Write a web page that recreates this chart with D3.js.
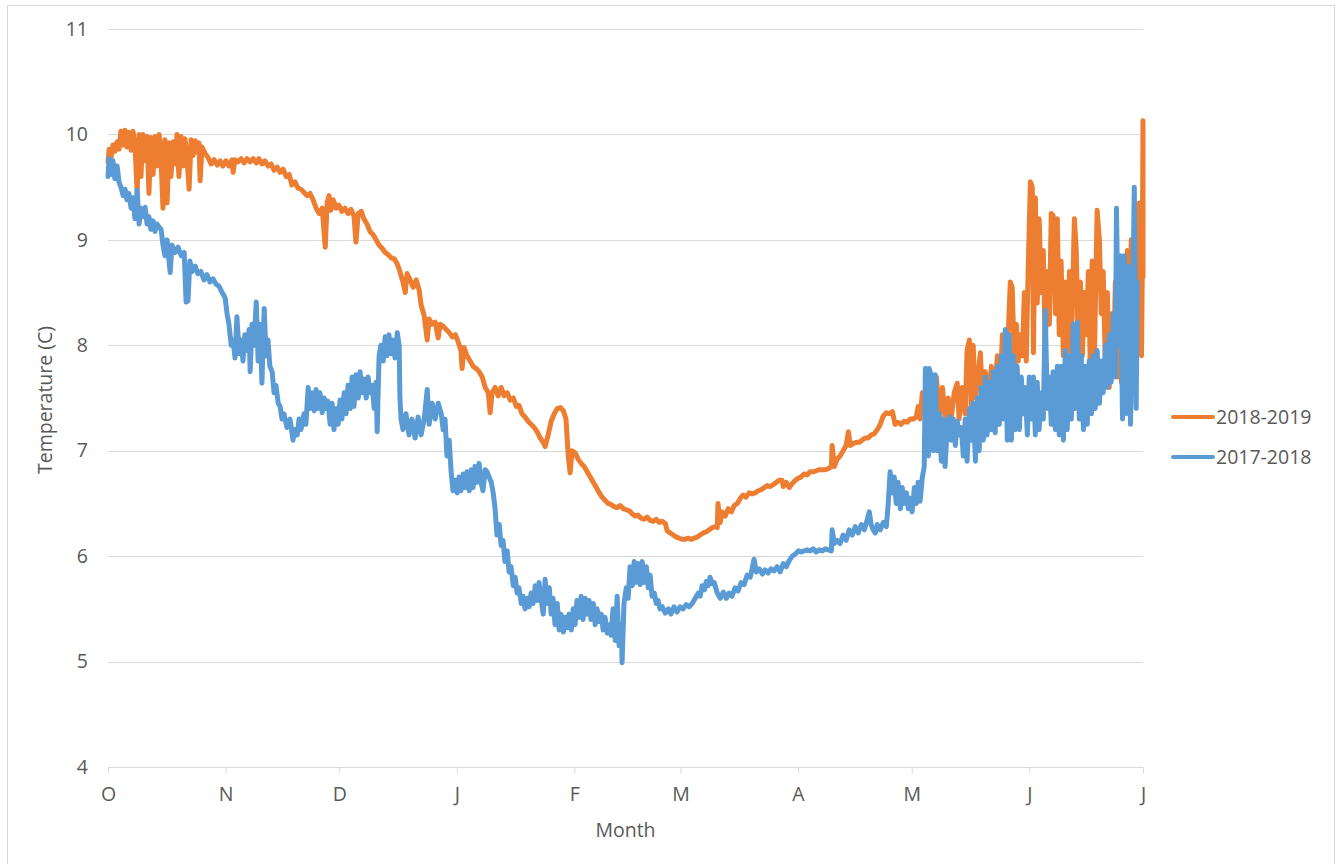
<!DOCTYPE html>
<html>
<head>
<meta charset="utf-8">
<script src="https://cdn.jsdelivr.net/npm/d3@7"></script>
<style>
  body { margin: 0; background: #fff; }
  text { font-family: "Open Sans", sans-serif; fill: #595959; }
</style>
</head>
<body>
<div id="chart"></div>
<script>
// month ticks (days since 1 Oct)
var monthDays = [0, 31, 61, 92, 123, 151, 182, 212, 243, 273];
var monthLabels = ["O", "N", "D", "J", "F", "M", "A", "M", "J", "J"];
var yTicks = [4, 5, 6, 7, 8, 9, 10, 11];
var seriesNames = ["2018-2019", "2017-2018"];

// 2018-2019 : day since 1 Oct, temperature (C)
var days1819 = [0,0.3,0.8,1.3,1.8,2.4,2.9,3.4,4.0,4.5,5.0,5.5,6.1,6.6,7.1,7.7,8.2,8.7,9.2,9.8,10.3,10.8,11.3,11.9,12.4,12.9,13.5,14.0,14.5,15.0,15.6,16.1,16.6,17.2,17.7,18.2,18.7,19.3,19.8,20.3,20.8,21.4,21.9,22.4,23.0,23.5,24.0,24.3,24.8,25.6,26.4,27.2,28.0,28.8,29.6,30.3,31.1,31.9,32.7,33.0,33.5,34.3,35.1,35.9,36.7,37.5,38.3,39.1,39.8,40.6,41.4,42.2,43.0,43.8,44.6,45.4,46.2,47.0,47.8,48.5,49.3,50.1,50.9,51.7,52.5,53.3,54.1,54.9,55.7,56.5,57.3,57.8,58.3,58.8,59.4,60.2,60.9,61.7,62.5,63.3,64.1,64.9,65.4,66.0,66.8,67.5,68.3,69.1,69.9,70.7,71.5,72.3,73.1,73.9,74.7,75.5,76.3,77.0,77.8,78.4,78.9,79.7,80.5,81.3,82.1,82.6,83.4,84.2,84.7,85.5,86.3,87.1,87.6,88.4,89.2,90.0,90.8,91.6,92.3,93.1,93.4,93.9,94.7,95.5,96.3,97.1,97.9,98.7,99.5,100.3,100.8,101.3,102.1,102.9,103.7,104.5,105.3,106.1,106.9,107.7,108.4,109.2,110.0,110.8,111.6,112.4,113.2,114.0,114.8,115.3,116.1,116.9,117.7,118.5,119.3,120.1,120.8,121.4,121.9,122.4,123.2,124.0,124.8,125.6,126.4,127.2,128.0,128.8,129.6,130.3,131.1,131.9,132.7,133.5,134.3,135.1,135.9,136.7,137.5,138.3,139.1,139.8,140.6,141.4,142.2,143.0,143.8,144.6,145.4,146.2,147.0,147.5,148.3,149.1,149.9,150.7,151.4,152.2,153.0,153.8,154.6,155.4,156.2,157.0,157.8,158.6,159.4,160.2,160.7,160.9,161.5,162.0,162.8,163.6,164.4,165.2,166.0,166.8,167.5,168.3,169.1,169.9,170.7,171.5,172.3,173.1,173.9,174.7,175.5,176.3,177.0,177.8,178.1,178.9,179.7,180.5,181.3,182.1,182.8,183.6,184.4,185.2,186.0,186.8,187.6,188.4,189.2,190.0,190.8,191.0,191.6,192.3,193.1,193.9,194.7,195.3,195.8,196.6,197.4,198.2,198.9,199.7,200.5,201.3,202.1,202.9,203.7,204.5,205.3,206.1,206.9,207.6,208.4,209.2,210.0,210.8,211.6,212.4,213.2,213.7,214.2,214.8,215.3,215.8,216.4,216.9,217.7,218.5,219.3,220.1,220.8,221.6,222.4,223.2,224.0,224.5,225.3,226.1,226.6,227.2,227.7,228.2,228.8,229.5,230.1,230.6,231.4,232.2,233.0,233.8,234.6,235.4,235.9,236.7,237.5,238.0,238.5,239.1,239.6,240.1,240.6,241.2,241.7,242.2,242.7,243.3,243.8,244.1,244.6,245.1,245.6,246.2,246.7,247.2,247.8,248.3,248.8,249.3,249.9,250.4,250.9,251.4,252.0,252.5,253.0,253.6,254.1,254.9,255.4,255.9,256.5,257.0,257.5,258.0,258.6,259.1,259.6,260.2,260.9,261.5,262.0,262.5,263.1,263.6,264.1,264.6,265.2,265.7,266.2,266.8,267.3,267.8,268.3,268.9,269.4,269.9,270.4,271.0,271.5,272.0,272.6,272.8,273.0,273.0];
var temp1819 = [9.74,9.86,9.78,9.9,9.84,9.93,9.86,10.03,9.9,10.04,9.88,10.02,9.85,10.03,9.9,9.45,10.0,9.6,10.0,9.75,9.98,9.44,9.97,9.62,9.98,9.7,10.0,9.75,9.3,9.95,9.35,9.92,9.6,9.93,9.72,10.0,9.6,9.98,9.7,9.96,9.8,9.48,9.95,9.8,9.94,9.83,9.92,9.56,9.88,9.82,9.78,9.72,9.76,9.71,9.75,9.7,9.75,9.7,9.76,9.64,9.76,9.74,9.77,9.73,9.77,9.74,9.77,9.73,9.77,9.72,9.75,9.7,9.72,9.66,9.69,9.64,9.67,9.6,9.62,9.52,9.55,9.49,9.48,9.45,9.42,9.44,9.38,9.3,9.25,9.3,8.93,9.35,9.42,9.28,9.38,9.3,9.33,9.27,9.3,9.25,9.29,9.22,8.98,9.25,9.27,9.2,9.15,9.08,9.05,9.0,8.95,8.92,8.88,8.86,8.83,8.82,8.77,8.7,8.6,8.5,8.68,8.62,8.55,8.62,8.52,8.38,8.28,8.05,8.25,8.2,8.22,8.07,8.2,8.18,8.15,8.12,8.08,8.1,8.04,7.95,7.78,7.98,7.9,7.85,7.8,7.78,7.75,7.7,7.6,7.55,7.36,7.55,7.6,7.52,7.6,7.52,7.55,7.48,7.5,7.42,7.43,7.35,7.32,7.28,7.25,7.22,7.18,7.12,7.08,7.04,7.15,7.28,7.35,7.4,7.41,7.38,7.3,6.95,6.79,7.0,6.98,6.92,6.88,6.85,6.8,6.75,6.7,6.65,6.6,6.56,6.53,6.5,6.49,6.47,6.46,6.48,6.45,6.44,6.43,6.4,6.38,6.39,6.36,6.35,6.37,6.34,6.33,6.35,6.32,6.33,6.31,6.24,6.22,6.2,6.18,6.17,6.16,6.16,6.17,6.16,6.17,6.18,6.2,6.22,6.23,6.25,6.27,6.28,6.27,6.5,6.32,6.42,6.38,6.45,6.42,6.48,6.5,6.55,6.58,6.56,6.6,6.59,6.6,6.62,6.63,6.65,6.67,6.66,6.68,6.7,6.72,6.72,6.66,6.7,6.65,6.69,6.72,6.74,6.75,6.78,6.77,6.8,6.8,6.81,6.82,6.82,6.82,6.83,6.85,7.05,6.85,6.92,6.95,7.0,7.05,7.18,7.05,7.07,7.08,7.08,7.1,7.12,7.12,7.15,7.16,7.2,7.25,7.33,7.36,7.35,7.37,7.25,7.27,7.25,7.28,7.27,7.3,7.3,7.32,7.42,7.3,7.55,7.4,7.6,7.3,7.7,7.25,7.7,7.35,7.6,7.3,7.5,7.3,7.55,7.64,7.3,7.6,7.35,7.95,8.05,7.4,8.0,7.5,7.7,7.93,7.55,7.75,7.45,7.8,7.55,7.9,7.6,8.1,7.75,8.15,8.6,8.55,7.8,8.2,7.85,8.1,7.9,8.5,7.85,8.7,9.55,9.5,7.93,9.4,8.4,9.2,8.5,8.9,8.0,8.7,8.2,9.25,9.23,8.3,9.2,8.1,8.8,7.9,8.6,7.85,8.7,7.95,9.2,8.9,8.0,8.6,7.9,8.5,8.1,8.7,7.8,8.8,7.9,9.28,9.0,8.3,8.7,7.8,8.5,7.6,8.3,7.7,8.6,7.7,8.3,7.65,8.5,7.9,8.9,7.9,9.0,7.9,9.0,8.4,9.35,7.9,8.65,10.13,8.65];

// 2017-2018 : day since 1 Oct, temperature (C)
var days1718 = [0,0.3,0.8,1.3,1.8,2.4,2.9,3.4,4.0,4.5,5.0,5.5,6.1,6.6,7.1,7.7,8.2,8.7,9.2,9.8,10.3,10.8,11.3,11.9,12.4,12.9,13.5,14.0,14.5,15.0,15.6,16.1,16.4,16.9,17.7,18.5,19.3,20.1,20.6,21.1,21.6,22.2,23.0,23.7,24.5,25.3,26.1,26.9,27.7,28.5,29.3,30.1,30.9,31.4,31.9,32.5,33.0,33.5,34.0,34.6,35.1,35.6,36.1,36.7,37.2,37.5,38.0,38.5,39.1,39.6,40.1,40.6,41.2,41.7,42.2,42.7,43.3,43.8,44.3,44.9,45.4,45.9,46.4,47.2,48.0,48.8,49.3,49.9,50.4,50.9,51.7,52.2,52.8,53.3,53.8,54.4,54.9,55.4,55.9,56.5,57.0,57.5,58.0,58.6,59.1,59.6,60.2,60.7,61.2,61.7,62.3,62.8,63.3,63.9,64.4,64.9,65.4,66.0,66.5,67.0,67.5,68.1,68.6,69.1,69.7,70.2,70.7,71.0,71.5,72.0,72.6,73.1,73.6,74.1,74.7,75.2,75.7,76.3,76.8,77.0,77.3,77.8,78.6,79.4,80.2,81.0,81.8,82.6,83.4,84.2,84.7,85.5,86.3,87.1,87.9,88.4,88.9,89.4,90.0,90.5,91.0,91.6,92.1,92.6,93.1,93.7,94.2,94.7,95.3,95.8,96.3,96.8,97.4,97.9,98.4,98.9,99.5,100.0,100.5,101.1,101.6,102.1,102.6,103.2,103.7,104.2,104.7,105.3,105.8,106.3,106.9,107.4,107.9,108.4,109.0,109.5,110.0,110.6,111.1,111.6,112.1,112.7,113.2,113.7,114.2,114.8,115.3,115.8,116.4,116.9,117.4,117.9,118.5,119.0,119.5,120.1,120.6,121.1,121.6,122.2,122.7,123.2,123.7,124.3,124.8,125.3,125.9,126.4,126.9,127.4,128.0,128.5,129.0,129.6,130.1,130.6,131.1,131.7,132.2,132.7,133.2,133.8,134.3,134.8,135.4,135.6,136.1,136.7,137.2,137.7,138.3,138.8,139.3,139.8,140.4,140.9,141.4,142.0,142.5,143.0,143.5,144.1,144.6,145.1,145.6,146.2,147.0,147.8,148.5,149.3,150.1,150.9,151.7,152.5,153.3,154.1,154.9,155.7,156.2,156.7,157.3,157.8,158.3,158.8,159.4,159.9,160.7,161.5,162.3,163.1,163.8,164.6,165.4,166.2,167.0,167.8,168.6,169.4,169.9,170.4,171.0,171.8,172.6,173.3,174.1,174.9,175.7,176.5,177.3,178.1,178.9,179.7,180.5,181.3,182.1,182.8,183.6,184.4,185.2,186.0,186.8,187.6,188.4,189.2,190.0,190.8,191.0,191.6,192.3,193.1,193.9,194.7,195.5,196.3,197.1,197.9,198.7,199.5,200.3,200.8,201.3,201.8,202.4,202.9,203.7,204.5,205.3,205.8,206.3,206.9,207.4,207.9,208.4,209.0,209.5,210.0,210.6,211.1,211.6,212.1,212.7,213.2,213.7,214.2,214.8,215.3,215.6,216.1,216.4,216.6,217.2,217.7,218.2,218.7,219.3,219.8,220.3,220.8,221.4,221.9,222.4,223.0,223.5,224.0,224.5,225.1,225.6,226.1,226.6,227.2,227.7,228.2,228.8,229.3,229.8,230.3,230.9,231.4,231.9,232.4,233.0,233.5,234.0,234.6,235.1,235.6,236.1,236.7,237.2,237.7,238.3,238.8,239.3,239.8,240.4,240.9,241.4,241.9,242.5,243.0,243.5,244.1,244.6,245.1,245.6,246.2,246.7,247.2,247.8,248.3,248.8,249.3,249.9,250.4,250.9,251.4,252.0,252.5,253.0,253.6,254.1,254.6,255.1,255.7,256.2,256.7,257.3,257.8,258.3,258.8,259.4,259.9,260.4,260.9,261.5,262.0,262.5,263.1,263.6,264.1,264.6,265.2,265.7,266.0,266.5,267.0,267.6,268.1,268.6,269.1,269.7,270.2,270.7,271.2,271.5];
var temp1718 = [9.6,9.77,9.62,9.75,9.58,9.7,9.55,9.5,9.42,9.48,9.38,9.44,9.3,9.4,9.2,9.47,9.15,9.3,9.22,9.31,9.15,9.22,9.1,9.18,9.08,9.15,9.12,9.1,8.95,8.85,9.0,8.8,8.69,8.95,8.88,8.93,8.85,8.88,8.41,8.42,8.8,8.7,8.75,8.68,8.7,8.62,8.67,8.6,8.63,8.58,8.56,8.5,8.45,8.3,8.2,8.0,8.05,7.88,8.27,7.92,8.05,7.85,8.1,7.95,8.15,7.75,8.2,8.0,8.41,7.85,8.2,7.64,8.35,7.9,8.05,7.8,7.75,7.55,7.62,7.45,7.42,7.3,7.35,7.22,7.3,7.1,7.2,7.15,7.3,7.2,7.35,7.25,7.6,7.4,7.55,7.38,7.58,7.4,7.55,7.36,7.5,7.4,7.47,7.25,7.45,7.2,7.4,7.25,7.48,7.3,7.55,7.35,7.62,7.4,7.7,7.42,7.72,7.5,7.75,7.55,7.68,7.5,7.7,7.55,7.62,7.4,7.65,7.18,7.9,8.0,7.85,8.08,7.9,8.1,7.92,8.05,7.88,8.12,8.0,7.5,7.3,7.2,7.35,7.15,7.3,7.12,7.32,7.15,7.3,7.58,7.25,7.45,7.3,7.45,7.35,7.2,7.3,6.95,7.1,6.8,6.62,6.72,6.6,6.75,6.62,6.78,6.65,6.8,6.62,6.82,6.65,6.85,6.7,6.88,6.7,6.62,6.82,6.8,6.75,6.7,6.6,6.45,6.2,6.3,6.1,6.15,5.95,6.05,5.85,5.9,5.72,5.8,5.65,5.7,5.55,5.62,5.5,5.6,5.52,5.65,5.55,5.72,5.58,5.75,5.6,5.45,5.78,5.55,5.7,5.45,5.6,5.35,5.55,5.3,5.45,5.28,5.42,5.32,5.45,5.3,5.5,5.35,5.58,5.42,5.62,5.4,5.6,5.45,5.58,5.4,5.55,5.35,5.5,5.38,5.45,5.3,5.42,5.27,5.35,5.25,5.5,5.2,5.62,5.15,5.35,4.99,5.55,5.7,5.6,5.9,5.72,5.95,5.75,5.93,5.73,5.95,5.75,5.9,5.7,5.82,5.62,5.65,5.55,5.58,5.5,5.52,5.46,5.5,5.45,5.52,5.47,5.52,5.5,5.54,5.52,5.55,5.6,5.65,5.62,5.72,5.68,5.76,5.72,5.8,5.74,5.75,5.65,5.6,5.66,5.6,5.65,5.62,5.7,5.67,5.75,5.73,5.82,5.8,5.88,5.97,5.85,5.88,5.83,5.87,5.84,5.88,5.86,5.9,5.85,5.93,5.9,5.96,6.0,6.02,6.05,6.04,6.05,6.06,6.05,6.07,6.04,6.06,6.05,6.07,6.06,6.05,6.25,6.12,6.15,6.12,6.2,6.15,6.25,6.2,6.28,6.22,6.3,6.25,6.35,6.42,6.3,6.25,6.22,6.3,6.25,6.32,6.28,6.5,6.8,6.6,6.75,6.5,6.7,6.45,6.65,6.5,6.6,6.45,6.55,6.42,6.65,6.5,6.7,6.52,6.75,6.85,7.78,7.6,6.95,7.78,7.7,7.0,7.72,7.0,7.35,6.9,7.3,6.85,7.25,7.32,7.1,7.3,7.05,7.28,7.15,7.22,6.95,7.3,6.9,7.4,7.1,7.45,6.9,7.5,7.0,7.6,7.1,7.7,7.15,7.65,7.2,7.75,7.17,7.8,7.25,7.9,7.3,8.15,7.1,8.1,7.1,7.9,7.2,7.8,7.2,7.7,7.35,7.6,7.15,7.7,7.3,7.7,7.15,7.65,7.2,7.55,7.3,8.33,7.4,7.7,7.25,7.75,7.2,7.8,7.15,7.8,7.1,7.95,7.2,7.9,7.3,8.2,7.4,8.22,7.3,7.9,7.2,7.8,7.25,7.85,7.35,7.9,7.4,7.95,7.45,7.85,7.55,8.0,7.6,8.1,7.65,8.3,7.7,9.3,8.0,8.85,7.3,8.85,7.35,8.75,7.25,8.2,9.5,7.4,8.6];

var colors = ["#ED7D31", "#5B9BD5"];

var width = 1343;
var height = 864;
var plot = { left: 108, right: 1143, top: 29, bottom: 767 };

var svg = d3.select("#chart")
    .append("svg")
    .attr("width", width)
    .attr("height", height);

svg.append("rect")
    .attr("width", width).attr("height", height)
    .attr("fill", "#fff");

// chart border
svg.append("rect")
    .attr("x", 7.5).attr("y", 5.5)
    .attr("width", 1327).attr("height", 880)
    .attr("fill", "none")
    .attr("stroke", "#d9d9d9");

var xScale = d3.scaleLinear().domain([0, 273]).range([plot.left, plot.right]);
var yScale = d3.scaleLinear().domain([4, 11]).range([plot.bottom, plot.top]);

// gridlines
svg.append("g")
    .selectAll("line")
    .data(yTicks.slice(1))
    .enter()
    .append("line")
    .attr("x1", plot.left).attr("x2", plot.right)
    .attr("y1", function(d) { return Math.round(yScale(d)) + 0.5; })
    .attr("y2", function(d) { return Math.round(yScale(d)) + 0.5; })
    .attr("stroke", "#d9d9d9")
    .attr("stroke-width", 1);

// y axis labels
var yAxis = d3.axisLeft(yScale)
    .tickValues(yTicks)
    .tickFormat(d3.format("d"))
    .tickSize(0)
    .tickPadding(20);
var gy = svg.append("g")
    .attr("transform", "translate(" + plot.left + ",0)")
    .call(yAxis);
gy.select(".domain").remove();
gy.selectAll("text")
    .style("font-size", "19.5px")
    .attr("fill", "#595959");

// x axis
var xAxis = d3.axisBottom(xScale)
    .tickValues(monthDays)
    .tickSize(6)
    .tickPadding(14)
    .tickFormat(function(d, i) { return monthLabels[i]; });
var gx = svg.append("g")
    .attr("transform", "translate(0," + (Math.round(plot.bottom) + 0.5) + ")")
    .call(xAxis);
gx.select(".domain").attr("stroke", "#d9d9d9").attr("d", "M" + plot.left + ",0H" + plot.right);
gx.selectAll(".tick line").attr("stroke", "#d9d9d9");
gx.selectAll("text")
    .style("font-size", "19.5px")
    .attr("fill", "#595959");

// series lines
var line = d3.line()
    .x(function(d) { return xScale(d[0]); })
    .y(function(d) { return yScale(d[1]); });

var series = [
    { name: seriesNames[0], data: d3.zip(days1819, temp1819), color: colors[0] },
    { name: seriesNames[1], data: d3.zip(days1718, temp1718), color: colors[1] }
];

svg.append("g")
    .selectAll("path")
    .data(series)
    .enter()
    .append("path")
    .attr("d", function(d) { return line(d.data); })
    .attr("fill", "none")
    .attr("stroke", function(d) { return d.color; })
    .attr("stroke-width", 5)
    .attr("stroke-linejoin", "round")
    .attr("stroke-linecap", "round");

// axis titles
svg.append("text")
    .attr("x", (plot.left + plot.right) / 2)
    .attr("y", 830)
    .attr("dy", "0.35em")
    .style("text-anchor", "middle")
    .style("font-size", "19.5px")
    .text("Month");

svg.append("text")
    .attr("transform", "translate(45," + ((plot.top + plot.bottom) / 2 + 2) + ") rotate(-90)")
    .attr("dy", "0.35em")
    .style("text-anchor", "middle")
    .style("font-size", "19.5px")
    .text("Temperature (C)");

// legend
var legend = svg.append("g")
    .selectAll("g")
    .data(series)
    .enter()
    .append("g")
    .attr("transform", function(d, i) { return "translate(1173," + (417 + i * 40) + ")"; });
legend.append("line")
    .attr("x1", 0).attr("x2", 40)
    .attr("stroke", function(d) { return d.color; })
    .attr("stroke-width", 4)
    .attr("stroke-linecap", "round");
legend.append("text")
    .attr("x", 43)
    .attr("dy", "0.35em")
    .style("font-size", "19.5px")
    .text(function(d) { return d.name; });
</script>
</body>
</html>
